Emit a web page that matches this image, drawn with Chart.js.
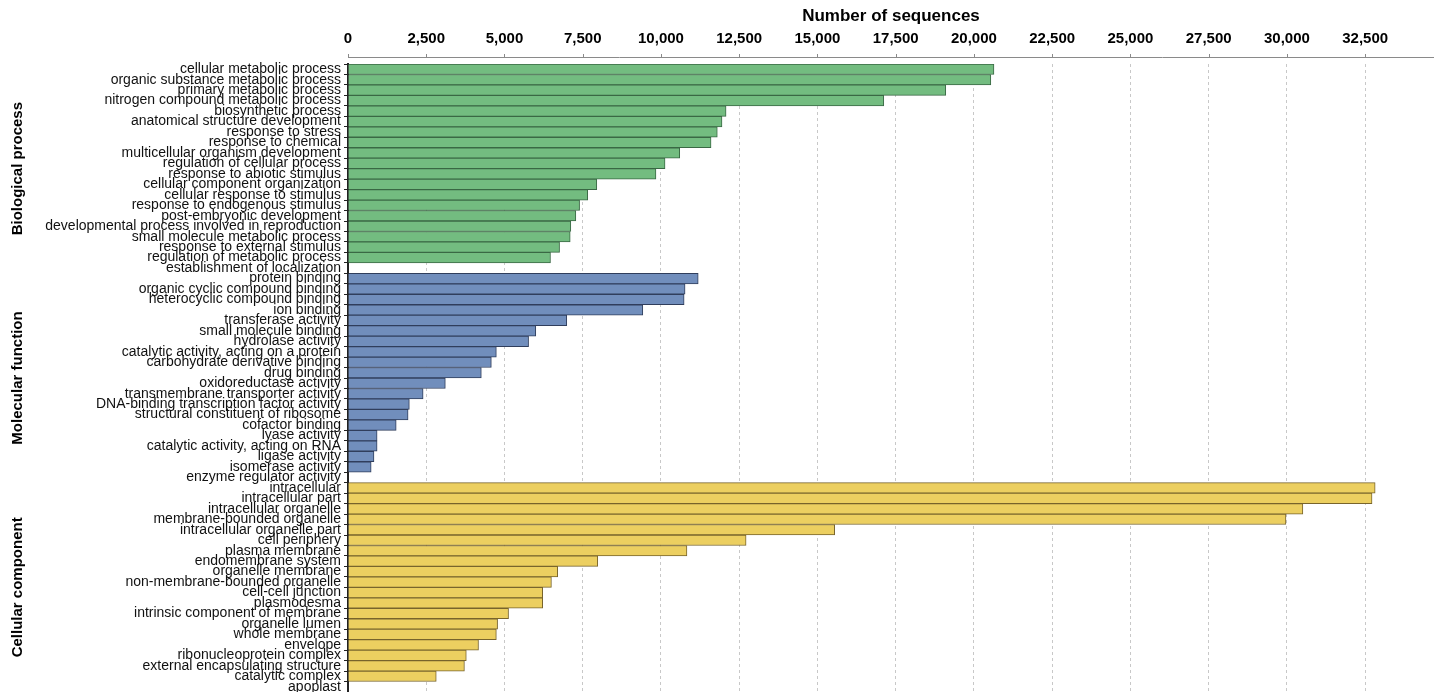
<!DOCTYPE html>
<html>
<head>
<meta charset="utf-8">
<script src="https://cdn.jsdelivr.net/npm/chart.js@4/dist/chart.umd.min.js"></script>
<style>
  body { margin: 0; background: #fff; }
  #wrap { position: relative; width: 1434px; height: 692px; }
</style>
</head>
<body>
<div id="wrap"><canvas id="myChart"></canvas></div>
<script>
const bioLabels = [
    "cellular metabolic process",
    "organic substance metabolic process",
    "primary metabolic process",
    "nitrogen compound metabolic process",
    "biosynthetic process",
    "anatomical structure development",
    "response to stress",
    "response to chemical",
    "multicellular organism development",
    "regulation of cellular process",
    "response to abiotic stimulus",
    "cellular component organization",
    "cellular response to stimulus",
    "response to endogenous stimulus",
    "post-embryonic development",
    "developmental process involved in reproduction",
    "small molecule metabolic process",
    "response to external stimulus",
    "regulation of metabolic process",
    "establishment of localization",
];
const bioValues = [20640, 20540, 19100, 17120, 12080, 11950, 11800, 11600, 10600, 10130,
                   9840, 7950, 7660, 7400, 7280, 7120, 7100, 6760, 6470, 0];

const molLabels = [
    "protein binding",
    "organic cyclic compound binding",
    "heterocyclic compound binding",
    "ion binding",
    "transferase activity",
    "small molecule binding",
    "hydrolase activity",
    "catalytic activity, acting on a protein",
    "carbohydrate derivative binding",
    "drug binding",
    "oxidoreductase activity",
    "transmembrane transporter activity",
    "DNA-binding transcription factor activity",
    "structural constituent of ribosome",
    "cofactor binding",
    "lyase activity",
    "catalytic activity, acting on RNA",
    "ligase activity",
    "isomerase activity",
    "enzyme regulator activity",
];
const molValues = [11190, 10770, 10740, 9420, 6990, 6000, 5770, 4740, 4580, 4260,
                   3110, 2400, 1960, 1920, 1540, 930, 930, 830, 740, 0];

const cellLabels = [
    "intracellular",
    "intracellular part",
    "intracellular organelle",
    "membrane-bounded organelle",
    "intracellular organelle part",
    "cell periphery",
    "plasma membrane",
    "endomembrane system",
    "organelle membrane",
    "non-membrane-bounded organelle",
    "cell-cell junction",
    "plasmodesma",
    "intrinsic component of membrane",
    "organelle lumen",
    "whole membrane",
    "envelope",
    "ribonucleoprotein complex",
    "external encapsulating structure",
    "catalytic complex",
    "apoplast",
];
const cellValues = [32820, 32720, 30510, 29970, 15550, 12720, 10830, 7980, 6700, 6500,
                    6220, 6220, 5130, 4780, 4740, 4170, 3780, 3720, 2820, 0];

const groupNames = ["Biological process", "Molecular function", "Cellular component"];
const xTicks = [0, 2500, 5000, 7500, 10000, 12500, 15000, 17500, 20000, 22500, 25000, 27500, 30000, 32500];
const xMax = 34700;

const FONT = '"Liberation Sans", Arial, sans-serif';
const allLabels = bioLabels.concat(molLabels, cellLabels);
const groups = [bioValues, molValues, cellValues];
const fills = ["rgb(115,188,128)", "rgb(113,142,188)", "rgb(236,207,96)"];
const edges = ["rgb(58,104,68)", "rgb(48,62,92)", "rgb(120,100,44)"];

// each group is its own dataset, padded with nulls outside its rows
let offset = 0;
const datasets = groups.map((vals, g) => {
    const start = offset;
    offset += vals.length;
    return {
        label: groupNames[g],
        data: allLabels.map((l, i) => (i >= start && i < start + vals.length) ? vals[i - start] : null),
        backgroundColor: fills[g],
        borderColor: edges[g],
        borderWidth: 1,
        barPercentage: 1,
        categoryPercentage: 1,
        grouped: false,
    };
});

const groupTitles = {
    id: "groupTitles",
    afterDraw(chart) {
        const c = chart.ctx;
        const y = chart.scales.y;
        const x = chart.scales.x;
        const area = chart.chartArea;
        c.save();
        // top axis line + little ticks
        c.strokeStyle = "#8a8a8a";
        c.lineWidth = 1;
        c.beginPath();
        c.moveTo(area.left, area.top - 6.5);
        c.lineTo(chart.width, area.top - 6.5);
        xTicks.forEach(v => {
            const px = Math.round(x.getPixelForValue(v)) + 0.5;
            c.moveTo(px, area.top - 6.5);
            c.lineTo(px, area.top - 10);
        });
        c.stroke();

        c.fillStyle = "#000";
        c.font = "bold 15px " + FONT;
        c.textAlign = "center";
        c.textBaseline = "middle";
        let s = 0;
        groups.forEach((vals, g) => {
            const mid = (y.getPixelForValue(s) + y.getPixelForValue(s + vals.length - 1)) / 2;
            c.save();
            c.translate(18, mid);
            c.rotate(-Math.PI / 2);
            c.fillText(groupNames[g], 0, 0);
            c.restore();
            s += vals.length;
        });
        c.restore();
    }
};

const config = {
    type: "bar",
    data: { labels: allLabels, datasets: datasets },
    options: {
        indexAxis: "y",
        responsive: true,
        maintainAspectRatio: false,
        animation: false,
        layout: { padding: 0 },
        plugins: { legend: { display: false }, tooltip: { enabled: false } },
        scales: {
            x: {
                position: "top",
                min: 0,
                max: xMax,
                afterBuildTicks: (s) => { s.ticks = xTicks.map(v => ({ value: v })); },
                afterFit: (s) => { s.height = 64; s.paddingLeft = 0; s.paddingRight = 0; },
                ticks: {
                    color: "#000",
                    padding: 16,
                    autoSkip: false,
                    maxRotation: 0,
                    font: { family: FONT, size: 15, weight: "bold" },
                    callback: (v) => Number(v).toLocaleString("en-US"),
                },
                title: {
                    display: true,
                    text: "Number of sequences",
                    color: "#000",
                    font: { family: FONT, size: 17, weight: "bold" },
                    padding: { top: 6, bottom: 0 },
                },
                grid: { color: "#c8c8c8", drawTicks: false },
                border: { display: false, dash: [3, 3] },
            },
            y: {
                afterFit: (s) => { s.width = 348; s.paddingTop = 0; s.paddingBottom = 0; },
                ticks: {
                    autoSkip: false,
                    color: "#111",
                    padding: 3,
                    font: { family: FONT, size: 14 },
                },
                grid: { drawOnChartArea: false, tickLength: 4, tickColor: "#222" },
                border: { display: true, color: "#222", width: 2 },
            },
        },
    },
    plugins: [groupTitles],
};

const myChart = new Chart(document.getElementById("myChart"), config);
</script>
</body>
</html>
